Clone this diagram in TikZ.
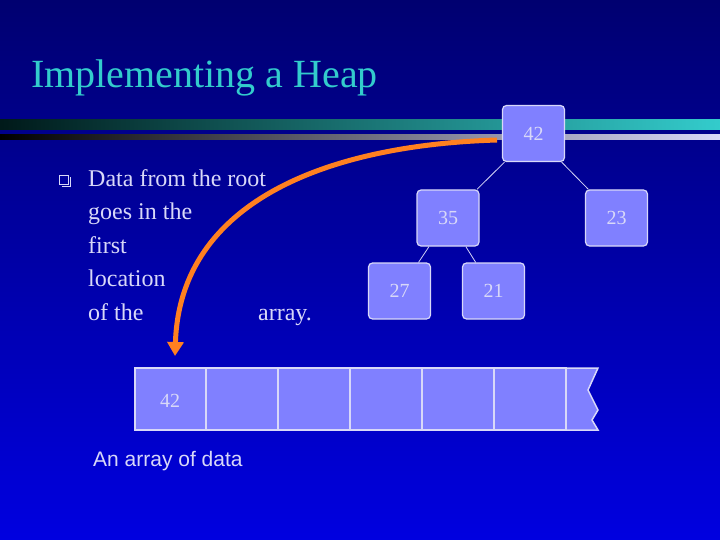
\documentclass[tikz,border=0pt]{standalone}
\usepackage{fontspec}
\setmainfont{Liberation Serif}
\newfontfamily\arial{Liberation Sans}
\usetikzlibrary{arrows.meta}
\definecolor{bgtop}{HTML}{000070}
\definecolor{bgbot}{HTML}{0000E0}
\definecolor{nfill}{HTML}{8080FF}
\definecolor{nline}{HTML}{D8D8F8}
\definecolor{titc}{HTML}{33CCCC}
\definecolor{orng}{HTML}{FF8020}
\tikzset{
  hnode/.style={draw=nline, line width=1.2pt, fill=nfill, rounded corners=4pt, minimum width=62pt, minimum height=56pt, inner sep=0pt, text=nline, font=\fontsize{20}{20}\selectfont},
  edge/.style={draw=nline, line width=0.8pt},
  cell/.style={draw=nline, line width=1.5pt, fill=nfill},
  btext/.style={anchor=base west, text=nline, font=\fontsize{24}{24}\selectfont, inner sep=0pt}
}
\begin{document}
\begin{tikzpicture}[x=1pt,y=-1pt]
\useasboundingbox (0,0) rectangle (720,540);
\shade[top color=bgtop, bottom color=bgbot] (0,0) rectangle (720,540);
\node[anchor=base west, text=titc, inner sep=0pt, font=\fontsize{40}{40}\selectfont] (title) at (31,88) {Implementing a Heap};
\shade[left color=black!80!teal, right color=titc] (0,120) rectangle (720,130);
\shade[left color=black, right color=nline] (0,135) rectangle (720,140);
% tree
\node[hnode] (n42) at (533.5,133.5) {42};
\node[hnode] (n35) at (448,218) {35};
\node[hnode] (n23) at (616.5,218) {23};
\node[hnode] (n27) at (399.5,291) {27};
\node[hnode] (n21) at (493.5,291) {21};
\draw[edge] (n42) -- (n35);
\draw[edge] (n42) -- (n23);
\draw[edge] (n35) -- (n27);
\draw[edge] (n35) -- (n21);
% text
\draw[nline, line width=1pt] (61.5,186.5) -- (70.5,186.5) -- (70.5,177.5);
\node[draw=nline, line width=1pt, minimum size=9pt, inner sep=0pt, fill=bgtop!60!bgbot] (bul) at (64,180) {};
\node[btext] (t1) at (88,187) {Data from the root};
\node[btext] (t2) at (88,220) {goes in the};
\node[btext] (t3) at (88,253) {first};
\node[btext] (t4) at (88,286) {location};
\node[btext] (t5) at (88,320) {of the};
\node[btext] (t6) at (258,320) {array.};
% array
\foreach \a/\b in {135/206,206/278,278/350,350/422,422/494,494/566} {
  \draw[cell] (\a,368) rectangle (\b,430);
}
\draw[cell] (566,368) -- (598,368) -- (588,390) -- (598,410) -- (592,420) -- (598,430) -- (566,430) -- cycle;
\node[text=nline, font=\fontsize{20}{20}\selectfont] (v42) at (170,401) {42};
\node[anchor=base west, text=nline, inner sep=0pt, font=\arial\fontsize{21}{21}\selectfont] (cap) at (93,466) {An array of data};
% arrow
\coordinate (as) at (497,140);
\coordinate (ae) at (175,356);
\draw[orng, line width=5pt, -{Triangle[length=14pt,width=16pt]}] (as) .. controls (330,145) and (180,200) .. (ae);
\end{tikzpicture}
\end{document}
